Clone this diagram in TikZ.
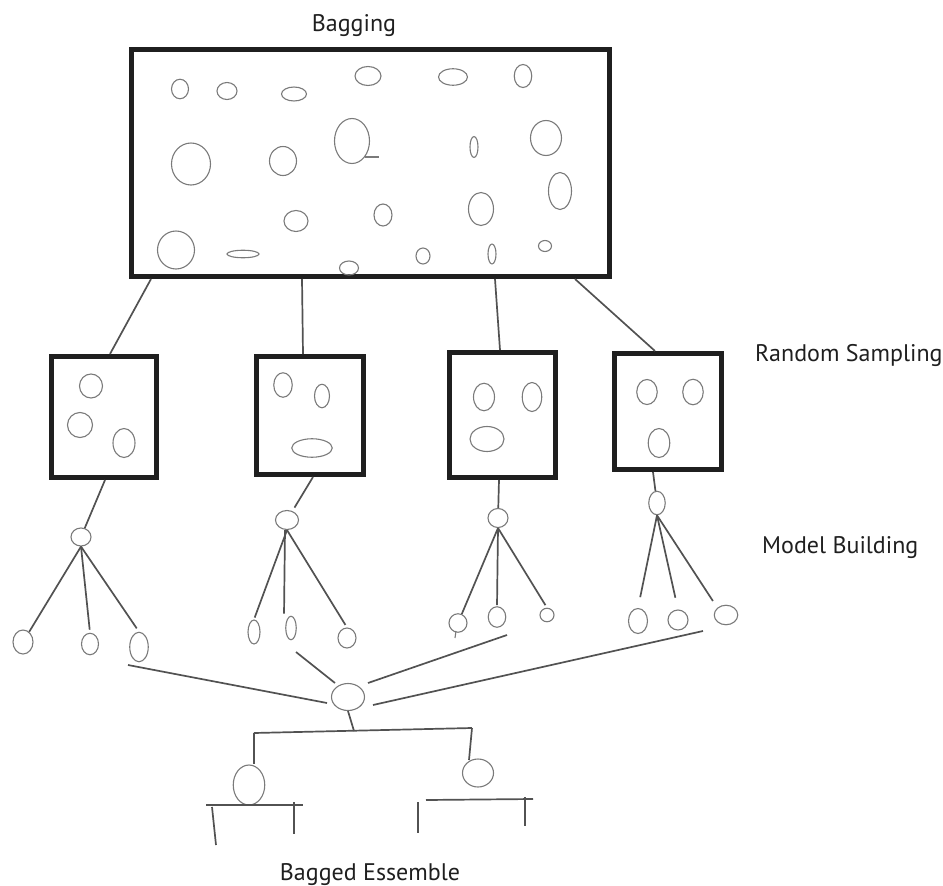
\documentclass[tikz,border=0pt]{standalone}
\usepackage{fontspec}
\setmainfont{PT Sans}
\usetikzlibrary{shapes.geometric}
\tikzset{
  ell/.style={ellipse,draw=black!52,line width=1.1pt,inner sep=0pt,fill=none},
  bigbox/.style={rectangle,draw=black!88,line width=5pt,inner sep=0pt},
  conn/.style={draw=black!68,line width=1.7pt},
  lbl/.style={font=\fontsize{24}{28}\selectfont,text=black!88,inner sep=0pt}
}
\newcommand{\myoval}[5]{\node[ell,minimum width=#4pt,minimum height=#5pt] (#1) at (#2,#3) {};}
\begin{document}
\begin{tikzpicture}[x=1pt,y=-1pt]
\useasboundingbox (0,0) rectangle (943,886);

% labels
\node[lbl,anchor=base] (tbag) at (354,31) {Bagging};
\node[lbl,anchor=base west] (trs) at (755,361) {Random Sampling};
\node[lbl,anchor=base west] (tmb) at (762,553) {Model Building};
\node[lbl,anchor=base] (tbe) at (370,880) {Bagged Essemble};

% main box
\node[bigbox,minimum width=478pt,minimum height=227pt] (bag) at (370.5,163) {};
\myoval{e1}{180}{89}{17}{19.5}
\myoval{e2}{227}{91}{20}{17}
\myoval{e3}{294}{94}{25}{14}
\myoval{e4}{368}{76}{26}{19}
\myoval{e5}{453}{77}{29}{16.5}
\myoval{e6}{523}{76}{17.5}{23}
\myoval{e7}{191}{164}{39}{42}
\myoval{e8}{283}{161}{27}{29}
\myoval{e9}{352}{141}{35}{45}
\coordinate (e9a) at (365,157);
\coordinate (e9b) at (379,157);
\draw[ell] (e9a) -- (e9b);
\myoval{e10}{474}{147}{8}{21}
\myoval{e11}{546}{138}{31}{35}
\myoval{e12}{560}{191}{23}{37}
\myoval{e13}{481}{209}{25}{33}
\myoval{e14}{296}{221}{24}{21}
\myoval{e15}{383}{215}{18}{22}
\myoval{e16}{176}{250}{37}{38}
\myoval{e17}{243}{254}{32}{7.5}
\myoval{e18}{349}{268}{19}{14}
\myoval{e19}{423}{256}{14}{16}
\myoval{e20}{492}{254}{8}{20}
\myoval{e21}{545}{246}{13}{11}

% sample boxes
\node[bigbox,minimum width=105pt,minimum height=121pt] (s1) at (104,417) {};
\node[bigbox,minimum width=107pt,minimum height=118pt] (s2) at (310,415.5) {};
\node[bigbox,minimum width=106pt,minimum height=125pt] (s3) at (502.5,415) {};
\node[bigbox,minimum width=107pt,minimum height=116pt] (s4) at (668,411.5) {};

\myoval{a1}{91}{386}{23}{24}
\myoval{a2}{80}{425}{25}{25}
\myoval{a3}{124}{443}{22}{29}
\myoval{b1}{283}{385}{18.5}{24.5}
\myoval{b2}{322}{396}{15}{23.5}
\myoval{b3}{312}{448}{40.5}{18.5}
\myoval{c1}{484}{397}{21}{27.5}
\myoval{c2}{532}{397}{19.5}{29}
\myoval{c3}{487}{439}{34}{25}
\myoval{d1}{647}{392}{20.5}{25}
\myoval{d2}{693}{392}{20.5}{25.5}
\myoval{d3}{659}{443}{21.5}{29}

% connectors main box -> samples
\draw[conn] (bag.south -| 151,0) -- (s1.north -| 110,0);
\draw[conn] (bag.south -| 302,0) -- (s2.north -| 303,0);
\draw[conn] (bag.south -| 495,0) -- (s3.north -| 500,0);
\draw[conn] (bag.south -| 575,0) -- (s4.north -| 655,0);

% model trees
\myoval{r1}{81}{537}{20}{18}
\myoval{r2}{287}{520}{23}{19}
\myoval{r3}{498}{518}{20}{19}
\myoval{r4}{657}{503}{16.5}{23.5}

\myoval{l11}{23}{642}{20}{24}
\myoval{l12}{90}{644}{17}{21.5}
\myoval{l13}{139}{647}{18.5}{29.5}
\myoval{l21}{254}{632}{12}{24}
\myoval{l22}{291}{628}{10.5}{23.5}
\myoval{l23}{347}{638}{18}{20}
\myoval{l31}{458}{623}{18}{18.5}
\myoval{l32}{497}{617}{17.5}{20.5}
\myoval{l33}{547}{615}{14}{13.5}
\myoval{l41}{638}{621}{19}{25}
\myoval{l42}{678}{620}{20}{20}
\myoval{l43}{726}{615}{23.5}{19.5}
\coordinate (q1) at (456,631);
\coordinate (q2) at (455,638);
\draw[ell] (q1) -- (q2);

\draw[conn] (s1.south -| 105,0) -- (r1);
\draw[conn,shorten >=4pt] (s2.south -| 313,0) -- (r2);
\draw[conn] (s3.south -| 499,0) -- (r3);
\draw[conn] (s4.south -| 653,0) -- (r4);

\draw[conn] (r1.south) -- (l11);
\draw[conn,shorten >=3pt] (r1.south) -- (l12.north);
\draw[conn,shorten >=4pt] (r1.south) -- (l13.north);
\draw[conn,shorten >=2pt] (r2.south) -- (l21.north);
\draw[conn,shorten >=2pt] ([xshift=-2pt]r2.south) -- ([xshift=-7pt]l22.north);
\draw[conn,shorten >=3pt] (r2.south) -- (l23.north);
\draw[conn] (r3.south) -- (l31);
\draw[conn,shorten >=1pt] (r3.south) -- (l32.north);
\draw[conn,shorten >=3pt] (r3.south) -- (l33.north);
\draw[conn,shorten >=11pt] (r4.south) -- (l41.north);
\draw[conn,shorten >=12pt] (r4.south) -- (l42.north);
\draw[conn,shorten >=8pt] (r4.south) -- (l43.north west);

% ensemble
\myoval{ens}{348}{697}{33}{27}
\coordinate (f1) at (128,665);
\coordinate (f2) at (296,652);
\coordinate (f3) at (507,635);
\coordinate (f4) at (703,631);
\coordinate (g1) at (327,703);
\coordinate (g2) at (335,683);
\coordinate (g3) at (368,683);
\coordinate (g4) at (373,705);
\draw[conn] (f1) -- (g1);
\draw[conn] (f2) -- (g2);
\draw[conn] (f3) -- (g3);
\draw[conn] (f4) -- (g4);

% bagged ensemble tree
\coordinate (hbL) at (254,733);
\coordinate (hbR) at (472,728);
\coordinate (hbM) at (354,731);
\draw[conn] (hbL) -- (hbR);
\draw[conn] (ens.south) -- (hbM);
\myoval{bl}{249}{785}{31.5}{40}
\myoval{br}{478}{773}{31}{28}
\draw[conn] (hbL) -- (bl.north -| hbL);
\coordinate (brt) at (469,760);
\draw[conn] (hbR) -- (brt);

\coordinate (p1) at (206,805);
\coordinate (p2) at (303,805);
\coordinate (p3) at (212,807);
\coordinate (p4) at (216,845);
\coordinate (p5) at (294,802);
\coordinate (p6) at (294,834);
\draw[conn] (p1) -- (p2);
\draw[conn] (p3) -- (p4);
\draw[conn] (p5) -- (p6);

\coordinate (k1) at (426,800);
\coordinate (k2) at (533,799);
\coordinate (k3) at (525,797);
\coordinate (k4) at (525,826);
\coordinate (k5) at (418,802);
\coordinate (k6) at (418,833);
\draw[conn] (k1) -- (k2);
\draw[conn] (k3) -- (k4);
\draw[conn] (k5) -- (k6);
\end{tikzpicture}
\end{document}
